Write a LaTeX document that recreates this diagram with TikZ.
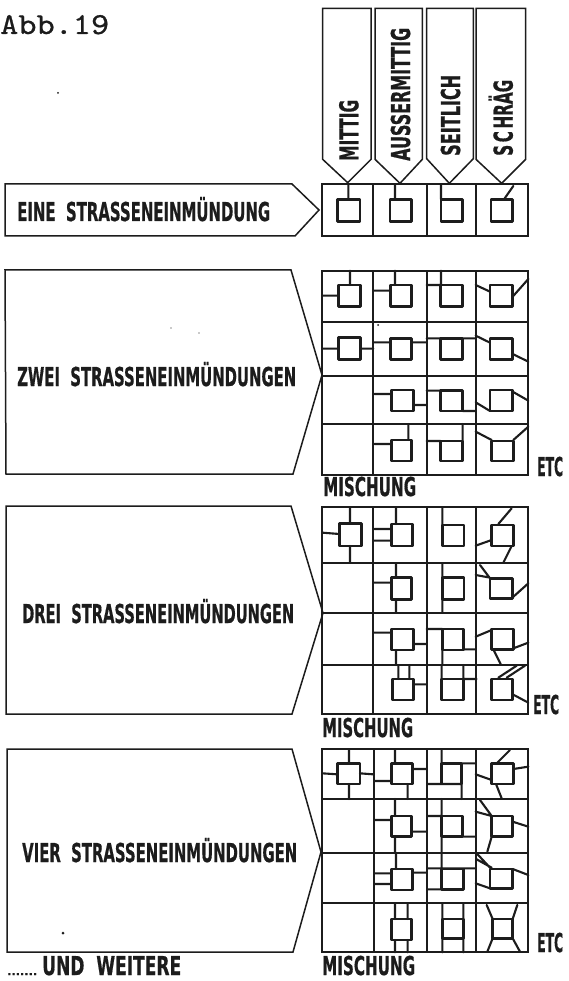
\documentclass[tikz,border=0pt]{standalone}
\usepackage{fontspec}
\usepackage{graphicx}
\newfontfamily\labelfont[FakeBold=0.8]{DejaVu Sans}
\newfontfamily\titlefont[FakeBold=0.6]{Latin Modern Mono}
\newcommand{\labtext}[2]{\resizebox{#1pt}{\height}{\fontsize{26}{26}\labelfont\bfseries #2}}
\definecolor{ink}{HTML}{1C1C1C}
\tikzset{
  zoomed/.style 2 args={shift={(#1,#2)},x=0.33333pt,y=-0.33333pt},
  frame/.style={draw=ink,line width=1.5pt,line join=miter},
  gridline/.style={draw=ink,line width=1.7pt},
  street/.style={draw=ink,line width=2.1pt,line cap=round},
  block/.style={draw=ink,line width=2.6pt,line join=round},
  lab/.style={inner sep=0pt,text=ink,anchor=base west},
  speck/.style={fill=ink,draw=none,circle,inner sep=0pt,minimum size=2pt}
}
\begin{document}
\begin{tikzpicture}[x=1pt,y=-1pt]
\useasboundingbox (0,0) rectangle (569,981);
\fill[white] (0,0) rectangle (569,981);

% title
\node[inner sep=0pt,anchor=base west,text=ink] (title) at (0,34) {\resizebox{109pt}{19pt}{\titlefont Abb.19}};

% left signs
\draw[frame] (5,184) -- (292,184) -- (319,210) -- (295,236) -- (5,236) -- cycle;
\draw[frame] (5,270) -- (291,270) -- (322,375) -- (293,474) -- (6,474) -- cycle;
\draw[frame] (6,506) -- (291,506) -- (323,613) -- (292,714) -- (6,714) -- cycle;
\draw[frame] (7,749) -- (292,749) -- (321,852) -- (293,952) -- (7,952) -- cycle;
\node[lab] (eine) at (17,221) {\labtext{253}{EINE\ \ STRASSENEINMÜNDUNG}};
\node[lab] (zwei) at (17,386) {\labtext{279}{ZWEI\ \ STRASSENEINMÜNDUNGEN}};
\node[lab] (drei) at (22,623) {\labtext{272}{DREI\ \ STRASSENEINMÜNDUNGEN}};
\node[lab] (vier) at (22,862) {\labtext{275}{VIER\ \ STRASSENEINMÜNDUNGEN}};
\node[lab] (weitere) at (42,975) {\labtext{139}{UND\ \ WEITERE}};
\node[lab] (dots) at (7,975) {\resizebox{30pt}{\height}{\fontsize{10}{10}\labelfont\bfseries .......}};

% top signs
\begin{scope}[zoomed={310}{0}]
\draw[frame] (38,25) -- (183,25) -- (183,478) -- (113,548) -- (38,478) -- cycle;
\draw[frame] (195,25) -- (337,25) -- (337,478) -- (270,550) -- (195,478) -- cycle;
\draw[frame] (350,25) -- (490,25) -- (490,476) -- (418,550) -- (350,476) -- cycle;
\draw[frame] (498,25) -- (647,25) -- (647,478) -- (575,550) -- (498,478) -- cycle;
\node[lab,rotate=90] (mittig) at (145,483) {\labtext{61}{MITTIG}};
\node[lab,rotate=90] (ausser) at (300,483) {\labtext{133}{AUSSERMITTIG}};
\node[lab,rotate=90] (seit) at (450,468) {\labtext{81}{SEITLICH}};
\node[lab,rotate=90] (schraeg) at (608,468) {\labtext{76}{S\,C\,HRÄG}};
% grid 1
\draw[gridline] (35,553) rectangle (655,708);
\draw[gridline] (190,553) -- (190,708) (350,553) -- (350,708) (497,553) -- (497,708);
\draw[block] (83,598) rectangle (150,665) (240,598) rectangle (305,665) (393,598) rectangle (458,665) (543,598) rectangle (608,665);
\draw[street] (115,553) -- (115,598) (255,553) -- (255,598) (393,553) -- (393,598) (610,558) -- (582,598);
\end{scope}

% grid 2
\begin{scope}[zoomed={310}{250}]
\draw[gridline] (35,62) rectangle (655,675);
\draw[gridline] (35,215) -- (655,215) (35,377) -- (655,377) (35,522) -- (655,522);
\draw[gridline] (190,62) -- (190,675) (350,62) -- (350,675) (497,62) -- (497,675);
\draw[block] (85,105) rectangle (152,170) (242,105) rectangle (305,170) (392,105) rectangle (458,170) (540,105) rectangle (608,170);
\draw[block] (85,263) rectangle (152,328) (242,265) rectangle (305,328) (392,265) rectangle (458,328) (540,265) rectangle (608,328);
\draw[block] (245,420) rectangle (310,483) (392,422) rectangle (458,483) (540,420) rectangle (608,483);
\draw[block] (245,570) rectangle (305,633) (392,573) rectangle (458,633) (545,573) rectangle (610,633);
\draw[street] (120,62) -- (120,105) (37,137) -- (85,137)
  (255,62) -- (255,105) (193,122) -- (242,122)
  (393,62) -- (393,105) (350,105) -- (392,105)
  (497,105) -- (540,125) (608,140) -- (655,87)
  (37,296) -- (85,296) (152,296) -- (190,296)
  (193,277) -- (242,277) (305,277) -- (350,277)
  (350,265) -- (497,265) (497,257) -- (540,278) (608,312) -- (655,335)
  (193,432) -- (245,432) (310,465) -- (350,465)
  (350,422) -- (392,422) (458,483) -- (497,483)
  (497,457) -- (540,483) (608,425) -- (655,452)
  (193,582) -- (245,582) (295,522) -- (295,570)
  (350,573) -- (392,573) (458,522) -- (458,573)
  (497,545) -- (545,570) (610,570) -- (655,530);
\end{scope}

% grid 3
\begin{scope}[zoomed={310}{460}]
\draw[gridline] (37,142) rectangle (655,762);
\draw[gridline] (37,310) -- (655,310) (37,458) -- (655,458) (37,615) -- (655,615);
\draw[gridline] (190,142) -- (190,762) (350,142) -- (350,762) (497,142) -- (497,762);
\draw[block] (88,190) rectangle (155,258) (245,192) rectangle (308,258) (397,195) rectangle (462,258) (545,195) rectangle (610,258);
\draw[block] (245,353) rectangle (305,418) (397,353) rectangle (462,418) (540,355) rectangle (608,415);
\draw[block] (245,507) rectangle (310,570) (397,507) rectangle (460,570) (545,507) rectangle (610,568);
\draw[block] (248,657) rectangle (310,720) (395,657) rectangle (460,720) (545,657) rectangle (608,720);
\draw[street] (120,142) -- (120,190) (120,258) -- (120,308) (37,218) -- (88,222)
  (258,142) -- (258,192) (193,207) -- (245,207) (193,242) -- (245,242)
  (397,142) -- (397,195)
  (605,145) -- (565,192) (497,257) -- (545,240) (605,258) -- (580,308)
  (258,310) -- (258,353) (193,368) -- (245,368) (258,418) -- (258,458)
  (397,310) -- (397,458)
  (510,315) -- (540,355) (497,345) -- (535,352) (608,412) -- (655,370)
  (193,518) -- (245,518) (310,552) -- (350,552) (258,570) -- (258,615)
  (350,507) -- (397,507) (397,507) -- (397,615) (460,568) -- (497,568)
  (497,530) -- (545,510) (610,565) -- (655,548) (550,568) -- (572,612)
  (265,615) -- (265,657) (298,615) -- (298,657) (310,673) -- (350,673)
  (395,615) -- (395,657) (460,615) -- (460,657) (460,657) -- (500,657)
  (565,653) -- (620,617) (590,653) -- (645,617) (608,703) -- (655,728);
\end{scope}

% grid 4
\begin{scope}[zoomed={310}{720}]
\draw[gridline] (37,88) rectangle (655,697);
\draw[gridline] (37,237) -- (655,237) (37,398) -- (655,398) (37,550) -- (655,550);
\draw[gridline] (193,88) -- (193,697) (352,88) -- (352,697) (497,88) -- (497,697);
\draw[block] (83,130) rectangle (150,192) (245,130) rectangle (307,192) (395,130) rectangle (455,192) (545,130) rectangle (610,192);
\draw[block] (245,288) rectangle (305,350) (395,288) rectangle (458,350) (545,288) rectangle (608,350);
\draw[block] (245,447) rectangle (308,510) (395,447) rectangle (460,508) (540,447) rectangle (608,505);
\draw[block] (245,597) rectangle (305,660) (397,597) rectangle (460,655) (548,597) rectangle (608,655);
\draw[street] (117,88) -- (117,130) (117,192) -- (117,237) (37,160) -- (83,163) (150,160) -- (190,163)
  (255,88) -- (255,130) (193,183) -- (245,183) (293,192) -- (293,237) (307,147) -- (350,147)
  (395,88) -- (395,130) (395,130) -- (497,130) (455,130) -- (455,237) (352,192) -- (455,192)
  (600,90) -- (560,130) (497,163) -- (545,180) (610,147) -- (655,140) (558,192) -- (575,235)
  (255,237) -- (255,288) (193,300) -- (245,300) (305,335) -- (350,335) (255,350) -- (255,398)
  (395,237) -- (395,398) (352,288) -- (395,288) (458,350) -- (497,350)
  (510,240) -- (545,288) (497,275) -- (545,288) (608,305) -- (655,320) (545,350) -- (532,395)
  (258,398) -- (258,447) (193,460) -- (245,460) (193,492) -- (245,492) (308,458) -- (350,458)
  (395,398) -- (395,447) (352,445) -- (497,445) (352,508) -- (395,508)
  (500,400) -- (540,443) (500,418) -- (545,443) (608,447) -- (655,465) (497,490) -- (540,505)
  (255,550) -- (255,597) (293,550) -- (293,597) (255,660) -- (255,697) (293,660) -- (293,697)
  (397,550) -- (397,597) (397,655) -- (397,697) (460,550) -- (460,597) (460,655) -- (460,697)
  (530,555) -- (548,597) (622,555) -- (608,597) (548,655) -- (532,695) (608,655) -- (630,695);
\end{scope}

% grid labels
\node[lab] (mischa) at (323,496) {\labtext{93}{MISCHUNG}};
\node[lab] (mischb) at (322,737) {\labtext{91}{MISCHUNG}};
\node[lab] (mischc) at (322,975) {\labtext{93}{MISCHUNG}};
\node[lab] (etca) at (537,476) {\labtext{26}{ETC}};
\node[lab] (etcb) at (533,714) {\labtext{26}{ETC}};
\node[lab] (etcc) at (537,952) {\labtext{26}{ETC}};

% specks of the print
\node[speck] (s1) at (58,93) {};
\node[speck,minimum size=1.2pt] (s2) at (171,328) {};
\node[speck,minimum size=1.2pt] (s3) at (199,333) {};
\node[speck] (s4) at (378,325) {};
\node[speck,minimum size=3pt] (s5) at (63,933) {};
\end{tikzpicture}
\end{document}
